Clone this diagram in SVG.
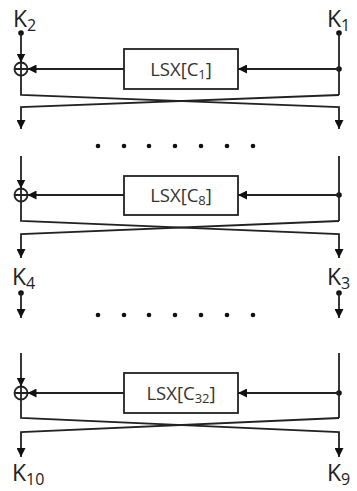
<svg xmlns="http://www.w3.org/2000/svg" width="357" height="491" viewBox="0 0 357 491">
<defs>
<style>
.ln{fill:none;stroke:#222;stroke-width:1.8}
.bx{fill:#fff;stroke:#222;stroke-width:1.8}
.dt{fill:#111}
.k{font-family:"Open Sans","DejaVu Sans",sans-serif;font-size:23px;fill:#222}
.sub{font-size:16px}
.bt{font-family:"Open Sans","DejaVu Sans",sans-serif;font-size:18.5px;fill:#333;text-anchor:middle}
.bsub{font-size:13px}
</style>
<marker id="ah" viewBox="0 0 10 10" refX="10" refY="5" markerWidth="9" markerHeight="9" markerUnits="userSpaceOnUse" orient="auto">
<path d="M0,0 L10,5 L0,10 z" fill="#111"/>
</marker>
</defs>
<rect width="357" height="491" fill="#fff"/>

<g id="labels">
<text class="k" x="13" y="27">K<tspan class="sub" dy="4">2</tspan></text>
<text class="k" x="327" y="27">K<tspan class="sub" dy="4">1</tspan></text>
<text class="k" x="12" y="285">K<tspan class="sub" dy="4">4</tspan></text>
<text class="k" x="327" y="285">K<tspan class="sub" dy="4">3</tspan></text>
<text class="k" x="12" y="481">K<tspan class="sub" dy="4">10</tspan></text>
<text class="k" x="327" y="481">K<tspan class="sub" dy="4">9</tspan></text>
</g>

<g id="round1">
<rect class="bx" x="124" y="49" width="114" height="40"/>
<text class="bt" x="181" y="76">LSX[C<tspan class="bsub" dy="3">1</tspan><tspan dy="-3">]</tspan></text>
<circle class="ln" cx="21" cy="69" r="6.5"/>
<path class="ln" d="M14.5,69 H27.5 M21,62.5 V75.5"/>
</g>
<g id="round8">
<rect class="bx" x="124" y="176" width="114" height="39"/>
<text class="bt" x="181" y="202">LSX[C<tspan class="bsub" dy="3">8</tspan><tspan dy="-3">]</tspan></text>
<circle class="ln" cx="21" cy="195" r="6.5"/>
<path class="ln" d="M14.5,195 H27.5 M21,188.5 V201.5"/>
</g>
<g id="round32">
<rect class="bx" x="124" y="373" width="114" height="40"/>
<text class="bt" x="181" y="400">LSX[C<tspan class="bsub" dy="3">32</tspan><tspan dy="-3">]</tspan></text>
<circle class="ln" cx="21" cy="393" r="6.5"/>
<path class="ln" d="M14.5,393 H27.5 M21,386.5 V399.5"/>
</g>

<g id="dots">
<circle class="dt" cx="98" cy="146" r="2.3"/><circle class="dt" cx="124" cy="146" r="2.3"/><circle class="dt" cx="149" cy="146" r="2.3"/><circle class="dt" cx="175" cy="146" r="2.3"/><circle class="dt" cx="201" cy="146" r="2.3"/><circle class="dt" cx="227" cy="146" r="2.3"/><circle class="dt" cx="253" cy="146" r="2.3"/>
<circle class="dt" cx="98" cy="315" r="2.3"/><circle class="dt" cx="124" cy="315" r="2.3"/><circle class="dt" cx="149" cy="315" r="2.3"/><circle class="dt" cx="175" cy="315" r="2.3"/><circle class="dt" cx="201" cy="315" r="2.3"/><circle class="dt" cx="227" cy="315" r="2.3"/><circle class="dt" cx="253" cy="315" r="2.3"/>
</g>

<g id="connectors">
<!-- round 1 -->
<circle class="dt" cx="21" cy="33" r="2.8"/>
<circle class="dt" cx="339" cy="33" r="2.8"/>
<circle class="dt" cx="339" cy="69" r="2.8"/>
<path class="ln" d="M21,33 V62.5" marker-end="url(#ah)"/>
<path class="ln" d="M339,33 V95"/>
<path class="ln" d="M339,69 H238" marker-end="url(#ah)"/>
<path class="ln" d="M124,69 H27.5" marker-end="url(#ah)"/>
<path class="ln" d="M21,75.5 V95 L339,107 V129" marker-end="url(#ah)"/>
<path class="ln" d="M339,95 L21,107 V129" marker-end="url(#ah)"/>
<!-- round 8 -->
<circle class="dt" cx="339" cy="195" r="2.8"/>
<path class="ln" d="M21,156 V188.5" marker-end="url(#ah)"/>
<path class="ln" d="M339,156 V221"/>
<path class="ln" d="M339,195 H238" marker-end="url(#ah)"/>
<path class="ln" d="M124,195 H27.5" marker-end="url(#ah)"/>
<path class="ln" d="M21,201.5 V221 L339,234 V258" marker-end="url(#ah)"/>
<path class="ln" d="M339,221 L21,234 V258" marker-end="url(#ah)"/>
<!-- K4/K3 onward -->
<circle class="dt" cx="21" cy="293" r="2.8"/>
<circle class="dt" cx="339" cy="293" r="2.8"/>
<path class="ln" d="M21,293 V318" marker-end="url(#ah)"/>
<path class="ln" d="M339,293 V318" marker-end="url(#ah)"/>
<!-- round 32 -->
<circle class="dt" cx="339" cy="393" r="2.8"/>
<path class="ln" d="M21,353 V386.5" marker-end="url(#ah)"/>
<path class="ln" d="M339,353 V418"/>
<path class="ln" d="M339,393 H238" marker-end="url(#ah)"/>
<path class="ln" d="M124,393 H27.5" marker-end="url(#ah)"/>
<path class="ln" d="M21,399.5 V418 L339,432 V457" marker-end="url(#ah)"/>
<path class="ln" d="M339,418 L21,432 V457" marker-end="url(#ah)"/>
</g>
</svg>
